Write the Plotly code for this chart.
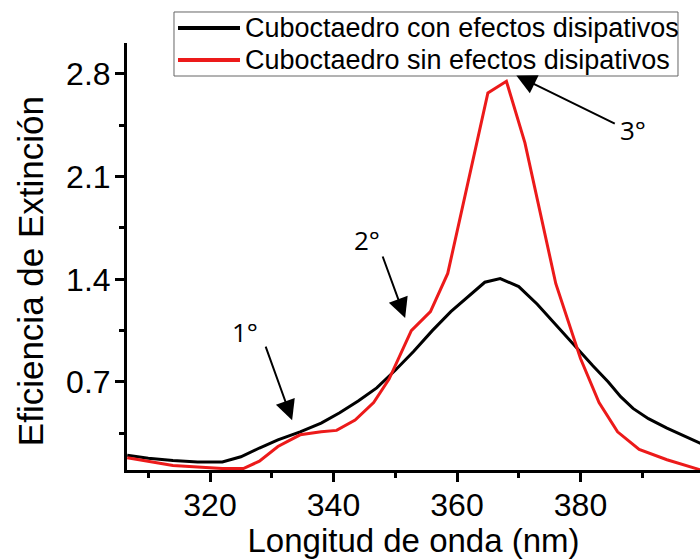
import plotly.graph_objects as go

# Data: wavelength (nm) and extinction efficiency
wl_con = [306.6, 310, 314, 318, 322, 325, 328, 331, 334.6, 338, 341, 344, 347, 350,
          353, 356, 359, 362, 364.5, 367, 370, 373, 376, 379.3, 382, 384.5, 386.5,
          388.5, 391, 394, 397, 399.5]
q_con = [0.20, 0.18, 0.165, 0.155, 0.155, 0.19, 0.25, 0.305, 0.36, 0.42, 0.49, 0.57,
         0.66, 0.78, 0.91, 1.05, 1.18, 1.29, 1.38, 1.405, 1.35, 1.23, 1.09, 0.93,
         0.81, 0.70, 0.60, 0.52, 0.45, 0.385, 0.33, 0.28]

wl_sin = [306.6, 310, 314, 318, 322, 325.4, 328, 331, 334.6, 338, 340.5, 343.5,
          346.5, 349, 352.6, 355.7, 358.5, 365, 368, 371, 376, 380, 383, 386, 389.5,
          394, 399.5]
q_sin = [0.184, 0.16, 0.13, 0.12, 0.11, 0.11, 0.16, 0.26, 0.34, 0.36, 0.37, 0.44,
         0.56, 0.72, 1.05, 1.18, 1.44, 2.67, 2.75, 2.33, 1.37, 0.86, 0.56, 0.36,
         0.24, 0.17, 0.10]

names = ["Cuboctaedro con efectos disipativos", "Cuboctaedro sin efectos disipativos"]
colors = ["black", "#ec1a1a"]

fig = go.Figure()
fig.add_trace(go.Scatter(x=wl_con, y=q_con, mode="lines", name=names[0],
                         line=dict(color=colors[0], width=3)))
fig.add_trace(go.Scatter(x=wl_sin, y=q_sin, mode="lines", name=names[1],
                         line=dict(color=colors[1], width=3)))

axfont = "Liberation Sans, Arial, sans-serif"
fig.update_layout(
    width=700, height=559,
    margin=dict(l=127, r=0, t=43, b=89),
    plot_bgcolor="white", paper_bgcolor="white",
    font=dict(family=axfont, color="black"),
    showlegend=False,
    xaxis=dict(range=[306.56, 399.35], tick0=320, dtick=20,
               showline=True, linecolor="black", linewidth=3,
               ticks="outside", ticklen=9, tickwidth=3, tickcolor="black",
               showgrid=False, zeroline=False,
               tickfont=dict(size=32), ticklabelstandoff=-4,
               minor=dict(dtick=10, tick0=310, ticks="outside", ticklen=5,
                          tickwidth=3, tickcolor="black", showgrid=False),
               title=dict(text="Longitud de onda (nm)", font=dict(size=33),
                          standoff=4)),
    yaxis=dict(range=[0.1, 3.011], tick0=0.7, dtick=0.7, tickformat=".1f",
               showline=True, linecolor="black", linewidth=3,
               ticks="outside", ticklen=9, tickwidth=3, tickcolor="black",
               showgrid=False, zeroline=False,
               tickfont=dict(size=32), ticklabelstandoff=-2,
               minor=dict(dtick=0.35, tick0=0.35, ticks="outside", ticklen=5,
                          tickwidth=3, tickcolor="black", showgrid=False)),
)

# y-axis title (placed as rotated text to match the reference position)
fig.add_annotation(text="Eficiencia de Extinción", xref="paper", yref="paper",
                   x=-0.169, y=0.466, xanchor="center", yanchor="middle",
                   textangle=-90, showarrow=False,
                   font=dict(size=35, family=axfont, color="black"))

# Legend box drawn in paper coordinates
fig.add_shape(type="rect", xref="paper", yref="paper",
              x0=0.0820, x1=0.9616, y0=0.9227, y1=1.0726,
              line=dict(color="#666666", width=1), fillcolor="white", layer="above")
row_y = [1.0351, 0.9602]
for i in range(2):
    fig.add_shape(type="line", xref="paper", yref="paper",
                  x0=0.0890, x1=0.1972, y0=row_y[i], y1=row_y[i],
                  line=dict(color=colors[i], width=4), layer="above")
    fig.add_annotation(text=names[i], xref="paper", yref="paper",
                       x=0.2024, y=row_y[i], xanchor="left", yanchor="middle",
                       showarrow=False,
                       font=dict(size=27, family=axfont, color="black"))

lblfont = dict(size=26, family="Open Sans, sans-serif", color="black")
# arrows (tip in data coords, tail as pixel offset)
arrows = [
    (333.3, 0.44, -27, -75),
    (351.6, 1.136, -23, -63),
    (369.6, 2.79, 100, 49),
]
for xt, yt, ax, ay in arrows:
    fig.add_annotation(x=xt, y=yt, xref="x", yref="y", ax=ax, ay=ay,
                       text="", showarrow=True, arrowhead=2, arrowsize=2.0,
                       arrowwidth=2, arrowcolor="black")
labels = [("1°", 325.7, 1.04), ("2°", 345.4, 1.668), ("3°", 388.5, 2.418)]
for t, xl, yl in labels:
    fig.add_annotation(x=xl, y=yl, xref="x", yref="y", text=t, showarrow=False,
                       font=lblfont)

fig.write_html("out.html")
